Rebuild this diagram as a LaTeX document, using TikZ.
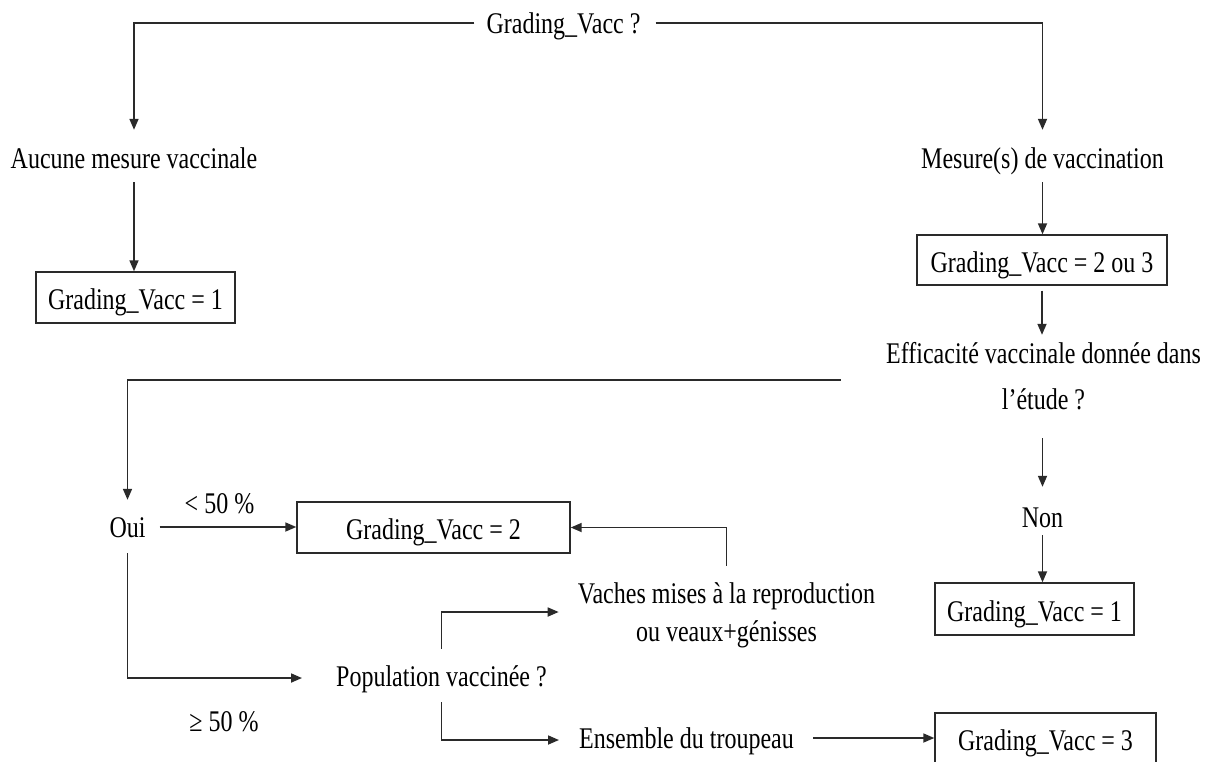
\documentclass[tikz,border=0pt]{standalone}
\usepackage{fontspec}
\setmainfont{Liberation Serif}[FakeStretch=0.80]
\usetikzlibrary{arrows.meta}
\definecolor{lc}{HTML}{2A2A2A}
\begin{document}
\begin{tikzpicture}[x=1pt,y=-1pt,
  every node/.style={font=\fontsize{30pt}{34pt}\selectfont, text=black},
  txt/.style={inner sep=0pt, text height=20pt, text depth=0pt, anchor=base},
  box/.style={draw=lc, line width=1.4pt, inner sep=0pt, text height=24pt, text depth=0pt, anchor=center},
  arr/.style={draw=lc, line width=1.7pt, -{Triangle[length=11pt,width=9pt]}},
  ln/.style={draw=lc, line width=1.7pt}]
\useasboundingbox (0,0) rectangle (1212,761);

% text nodes
\node[txt] (q0) at (563.5,33) {Grading\_Vacc ?};
\node[txt] (aucune) at (134,168) {Aucune mesure vaccinale};
\node[txt] (mesure) at (1042.5,168) {Mesure(s) de vaccination};
\node[txt] (eff1) at (1043.5,363) {Efficacité vaccinale donnée dans};
\node[txt] (eff2) at (1043.5,409) {l’étude ?};
\node[txt] (non) at (1042.5,527) {Non};
\node[txt] (oui) at (127.5,537) {Oui};
\node[txt] (lt50) at (219.5,513) {<~50~\%};
\node[txt] (ge50) at (224,731) {≥~50~\%};
\node[txt] (pop) at (441.5,686) {Population vaccinée ?};
\node[txt] (vach1) at (726.5,603) {Vaches mises à la reproduction};
\node[txt] (vach2) at (726.5,641) {ou veaux+génisses};
\node[txt] (ens) at (686.5,748) {Ensemble du troupeau};

% boxes
\node[box, minimum width=199pt, minimum height=51pt] (b1) at (135.5,297.5) {Grading\_Vacc = 1};
\node[box, minimum width=250pt, minimum height=50pt] (b23) at (1042,260) {Grading\_Vacc = 2 ou 3};
\node[box, minimum width=199pt, minimum height=52pt] (b1r) at (1034.5,609) {Grading\_Vacc = 1};
\node[box, minimum width=273pt, minimum height=51pt] (b2) at (433.5,527.5) {Grading\_Vacc = 2};
\node[box, minimum width=221pt, minimum height=51pt] (b3) at (1045.5,738.5) {Grading\_Vacc = 3};

\coordinate (effl) at ([xshift=-45pt,yshift=-27pt]eff1.west);

% connectors
\draw[arr] ([xshift=-12pt]q0.west) -| ([yshift=18pt]aucune.north);
\draw[arr] ([xshift=15pt]q0.east) -| ([yshift=18pt]mesure.north);
\draw[arr] ([yshift=-14pt]aucune.south) -- (aucune.south |- b1.north);
\draw[arr] ([yshift=-14pt]mesure.south) -- (mesure.south |- b23.north);
\draw[arr] ([yshift=-5pt]b23.south) -- ([yshift=8pt]b23.south |- eff1.north);
\draw[arr] (effl) -| ([yshift=17pt]oui.north);
\draw[arr] ([yshift=-29pt]non.north |- eff2.south) -- ([yshift=20pt]non.north);
\draw[arr] ([yshift=-8pt]non.south) -- (non.south |- b1r.north);
\draw[arr] ([xshift=14pt]oui.east) -- (oui.east -| b2.west);
\draw[arr] ([yshift=-16pt]oui.south) |- ([xshift=-34pt,yshift=-2pt]pop.west);
\draw[arr] ([yshift=17pt]pop.north) |- ([xshift=-19pt,yshift=-19pt]vach1.west);
\draw[arr] ([yshift=-16pt]pop.south) |- ([xshift=-20pt,yshift=-2pt]ens.west);
\draw[arr] ([xshift=19pt]ens.east) -- (ens.east -| b3.west);
\draw[arr] ([yshift=17pt]vach1.north) |- (b2.east);
\end{tikzpicture}
\end{document}
